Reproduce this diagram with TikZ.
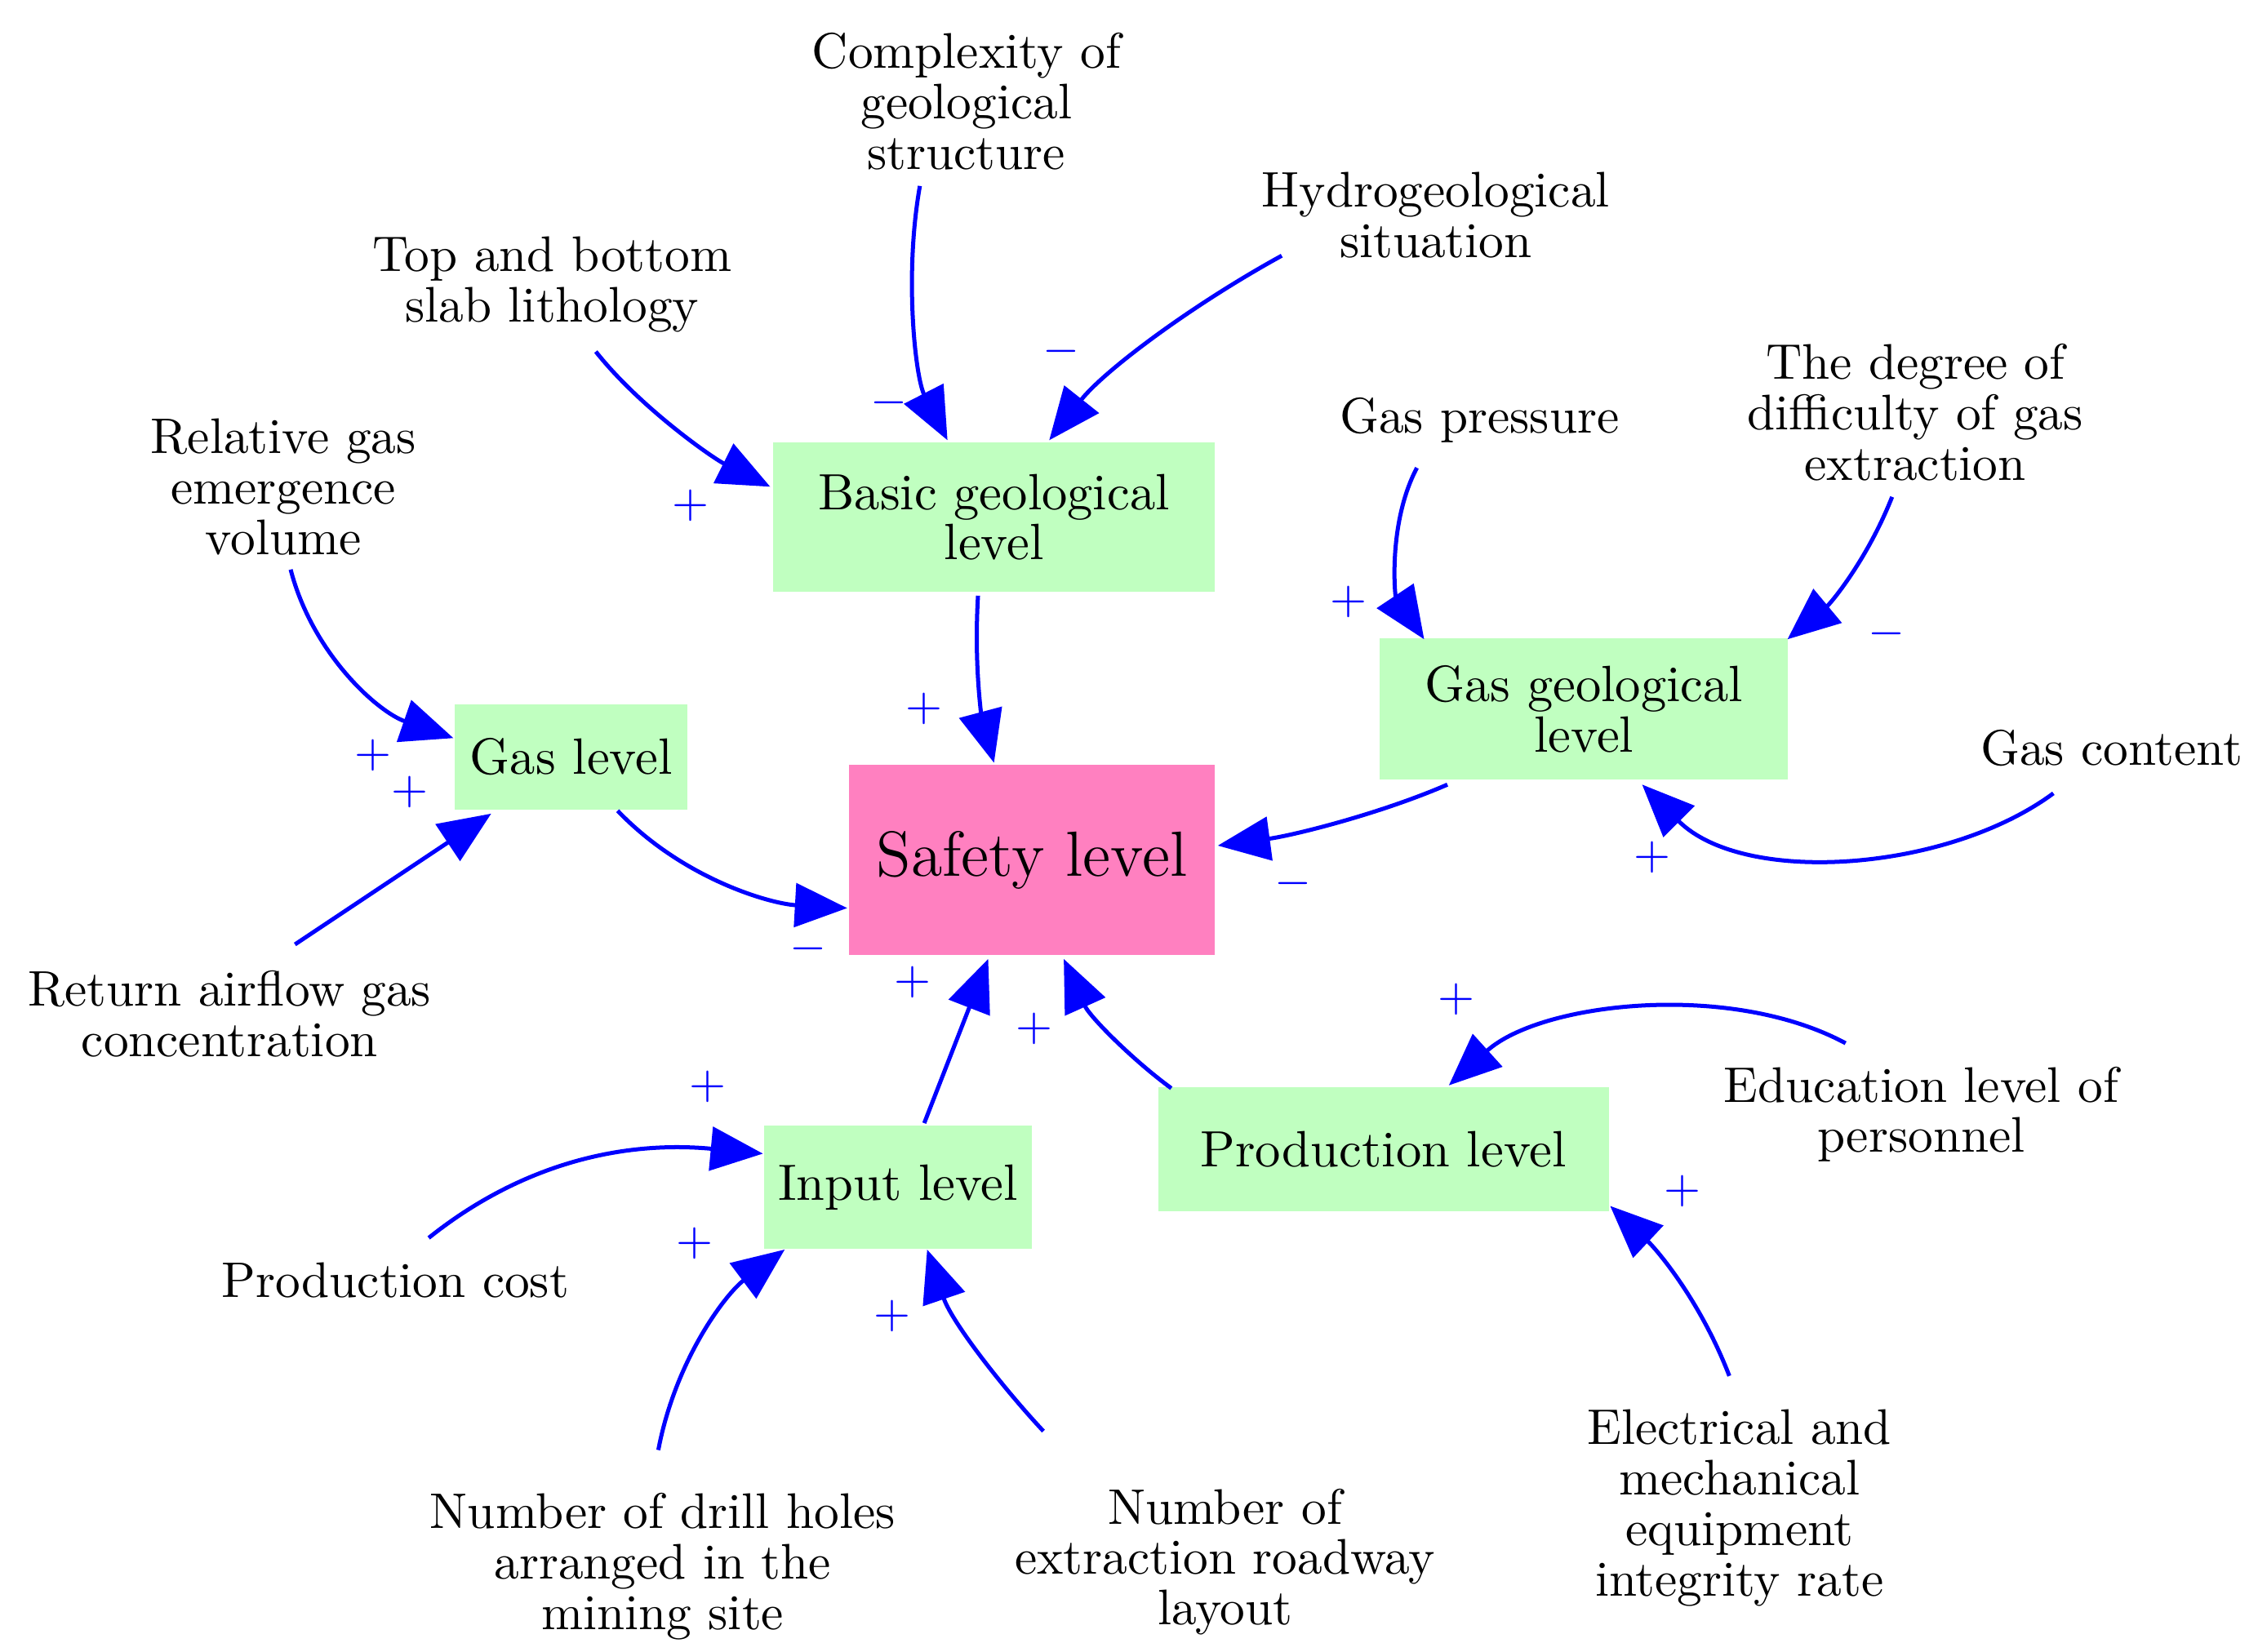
\documentclass[tikz,border=0pt]{standalone}
\usetikzlibrary{arrows.meta}
\begin{document}
\begin{tikzpicture}[x=0.1mm,y=-0.1mm,
  lbl/.style={align=center,font=\fontsize{9.8}{9.9}\selectfont,inner sep=0pt},
  box/.style={draw=none,fill=boxgreen,align=center,font=\fontsize{10}{9.8}\selectfont,inner sep=0pt},
  arr/.style={draw=blue,line width=0.8pt,-{Triangle[length=3.6mm,width=3mm]}},
  sg/.style={text=blue,font=\fontsize{9}{9}\selectfont,inner sep=0pt}]
\definecolor{boxgreen}{HTML}{C0FFC0}
\definecolor{boxpink}{HTML}{FF80C0}
\useasboundingbox (0,0) rectangle (1560,1137);
% boxes
\node[box,minimum width=30.4mm,minimum height=10.3mm] (basic) at (684,356) {Basic geological\\level};
\node[box,fill=boxpink,minimum width=25.2mm,minimum height=13.1mm,font=\fontsize{12.5}{12}\selectfont] (safe) at (710,592) {Safety level};
\node[box,minimum width=16mm,minimum height=7.2mm] (gas) at (393,521) {Gas level};
\node[box,minimum width=28.1mm,minimum height=9.7mm] (ggl) at (1090,488) {Gas geological\\level};
\node[box,minimum width=18.4mm,minimum height=8.5mm] (input) at (618,817) {Input level};
\node[box,minimum width=31mm,minimum height=8.5mm] (prod) at (952,791) {Production level};
% labels
\node[lbl] (cx) at (665,70) {Complexity of\\geological\\structure};
\node[lbl] (hy) at (988,148) {Hydrogeological\\situation};
\node[lbl] (tb) at (380,196) {Top and bottom\\slab lithology};
\node[lbl] (rg) at (195,335) {Relative gas\\emergence\\volume};
\node[lbl] (gp) at (1018,289) {Gas pressure};
\node[lbl] (dd) at (1318,284) {The degree of\\difficulty of gas\\extraction};
\node[lbl] (gc) at (1453,515) {Gas content};
\node[lbl] (ra) at (158,698) {Return airflow gas\\concentration};
\node[lbl] (ed) at (1322,767) {Education level of\\personnel};
\node[lbl] (pc) at (272,881) {Production cost};
\node[lbl] (dh) at (456,1078) {Number of drill holes\\arranged in the\\mining site};
\node[lbl] (rw) at (843,1075) {Number of\\extraction roadway\\layout};
\node[lbl] (el) at (1197,1038) {Electrical and\\mechanical\\equipment\\integrity rate};
% arrows
\draw[arr] (633,128) .. controls (622,190) and (630,260) .. (652,303);
\draw[arr] (882,176) .. controls (820,210) and (760,255) .. (722,303);
\draw[arr] (410,242) .. controls (440,280) and (490,315) .. (530,335);
\draw[arr] (673,410) .. controls (670,460) and (676,495) .. (684,525);
\draw[arr] (200,392) .. controls (215,450) and (260,490) .. (312,508);
\draw[arr] (203,650) -- (338,560);
\draw[arr] (425,558) .. controls (470,605) and (530,622) .. (583,625);
\draw[arr] (996,540) .. controls (950,560) and (890,575) .. (838,582);
\draw[arr] (975,322) .. controls (955,360) and (960,410) .. (980,440);
\draw[arr] (1302,342) .. controls (1285,385) and (1260,415) .. (1230,440);
\draw[arr] (1413,546) .. controls (1340,600) and (1200,610) .. (1130,540);
\draw[arr] (636,773) -- (680,660);
\draw[arr] (806,749) .. controls (780,730) and (750,700) .. (732,660);
\draw[arr] (1270,718) .. controls (1190,675) and (1060,690) .. (997,747);
\draw[arr] (295,852) .. controls (360,800) and (430,785) .. (525,794);
\draw[arr] (453,998) .. controls (465,935) and (500,890) .. (540,860);
\draw[arr] (718,985) .. controls (690,955) and (655,910) .. (638,860);
\draw[arr] (1190,947) .. controls (1170,895) and (1140,860) .. (1108,830);
% signs
\foreach \p/\n in {{(612,277)}/m1,{(730,242)}/m2,{(556,653)}/m3,{(890,608)}/m4,{(1298,436)}/m5}
  \node[sg] (\n) at \p {$-$};
\foreach \p/\n in {{(475,348)}/p1,{(636,488)}/p2,{(257,520)}/p3,{(282,545)}/p4,{(928,414)}/p5,{(1137,590)}/p6,{(628,676)}/p7,{(712,708)}/p8,{(1002,688)}/p9,{(487,748)}/p10,{(478,856)}/p11,{(614,906)}/p12,{(1158,820)}/p13}
  \node[sg] (\n) at \p {$+$};
\end{tikzpicture}
\end{document}
